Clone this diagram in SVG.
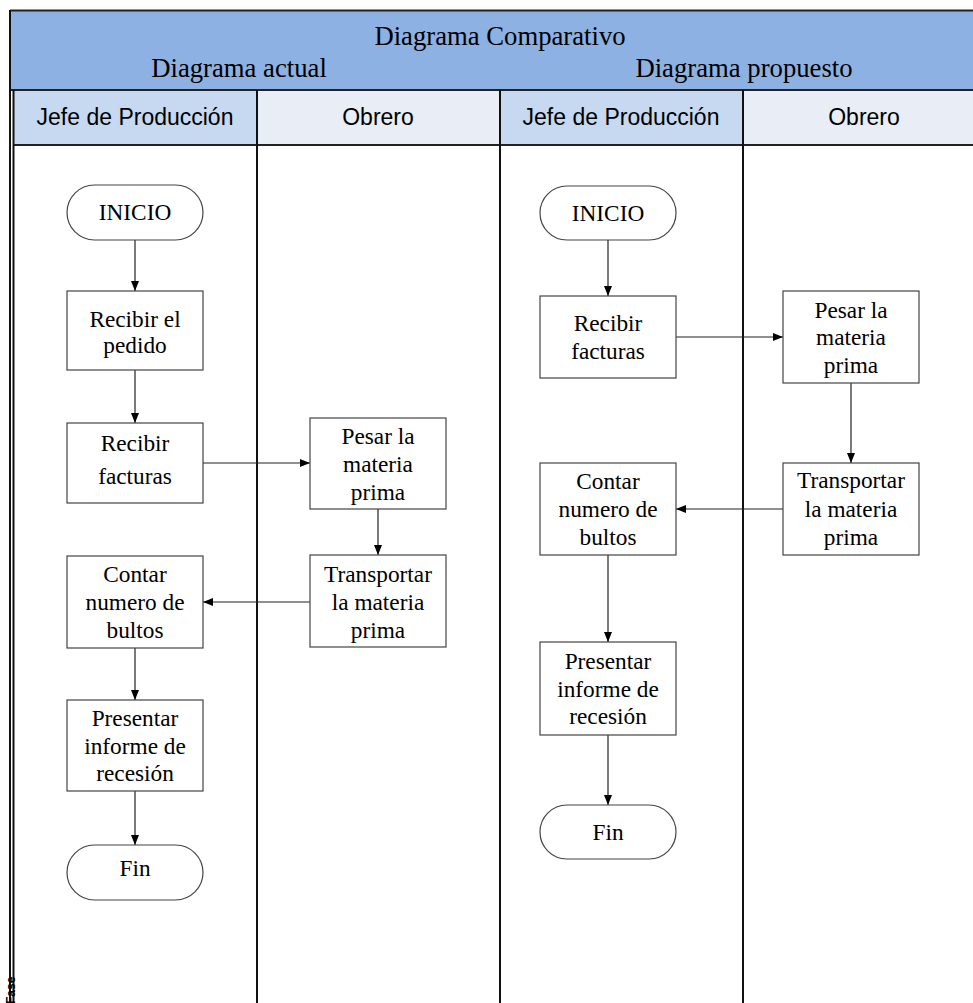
<svg xmlns="http://www.w3.org/2000/svg" width="973" height="1003" viewBox="0 0 973 1003">
<defs>
<marker id="ah" markerWidth="10" markerHeight="8" refX="10" refY="4" orient="auto" markerUnits="userSpaceOnUse">
<path d="M0,0 L10,4 L0,8 Z" fill="#000"/>
</marker>
<style>
.box{fill:#fff;stroke:#444;stroke-width:1.2}
.t{font-family:"Liberation Serif","Times New Roman",serif;font-size:23.3px;fill:#000;text-anchor:middle}
.h{font-family:"Liberation Sans",Arial,sans-serif;font-size:23px;fill:#000;text-anchor:middle}
.ttl{font-family:"Liberation Serif","Times New Roman",serif;font-size:26.7px;fill:#000;text-anchor:middle}
.lane{stroke:#111;stroke-width:2;fill:none}
.c{stroke:#222;stroke-width:1.2;fill:none;marker-end:url(#ah)}
</style>
</defs>
<rect width="973" height="1003" fill="#fff"/>
<g id="header">
<rect x="10" y="10" width="970" height="80" fill="#8DB1E2"/>
<rect x="13" y="90" width="244" height="55" fill="#C6D9F1"/>
<rect x="257" y="90" width="243" height="55" fill="#E9EDF5"/>
<rect x="500" y="90" width="243" height="55" fill="#C6D9F1"/>
<rect x="743" y="90" width="240" height="55" fill="#E9EDF5"/>
<line x1="10" y1="10.5" x2="973" y2="10.5" stroke="#222" stroke-width="2"/>
<line x1="10" y1="90" x2="973" y2="90" stroke="#222" stroke-width="2"/>
<line x1="13" y1="145" x2="973" y2="145" stroke="#222" stroke-width="2"/>
<text class="ttl" x="500" y="45">Diagrama Comparativo</text>
<text class="ttl" x="239" y="77">Diagrama actual</text>
<text class="ttl" x="744" y="77">Diagrama propuesto</text>
<text class="h" x="135" y="125">Jefe de Producción</text>
<text class="h" x="378" y="125">Obrero</text>
<text class="h" x="621" y="125">Jefe de Producción</text>
<text class="h" x="864" y="125">Obrero</text>
</g>
<g id="lanes">
<line class="lane" x1="10" y1="10" x2="10" y2="1003" stroke-width="1.5"/>
<line class="lane" x1="13.5" y1="90" x2="13.5" y2="1003" stroke-width="1.5"/>
<line class="lane" x1="257" y1="90" x2="257" y2="1003"/>
<line class="lane" x1="500" y1="90" x2="500" y2="1003"/>
<line class="lane" x1="743" y1="90" x2="743" y2="1003"/>
<text transform="translate(15,1004) rotate(-90)" font-family="Liberation Sans,Arial,sans-serif" font-size="12" font-weight="bold" fill="#000">Fase</text>
</g>
<g id="connectors">
<line class="c" x1="135" y1="240" x2="135" y2="291"/>
<line class="c" x1="135" y1="370" x2="135" y2="423"/>
<line class="c" x1="203" y1="463" x2="310" y2="463"/>
<line class="c" x1="378" y1="509" x2="378" y2="555"/>
<line class="c" x1="310" y1="602" x2="203" y2="602"/>
<line class="c" x1="135" y1="648" x2="135" y2="700"/>
<line class="c" x1="135" y1="791" x2="135" y2="845"/>
<line class="c" x1="608" y1="240" x2="608" y2="296"/>
<line class="c" x1="676" y1="337" x2="783" y2="337"/>
<line class="c" x1="851" y1="383" x2="851" y2="463"/>
<line class="c" x1="783" y1="509" x2="676" y2="509"/>
<line class="c" x1="608" y1="555" x2="608" y2="642"/>
<line class="c" x1="608" y1="735" x2="608" y2="805"/>
</g>
<g id="a-inicio"><rect class="box" x="67" y="185" width="136" height="55" rx="27.5"/><text class="t" x="135" y="220">INICIO</text></g>
<g id="a-pedido"><rect class="box" x="67" y="291" width="136" height="79"/><text class="t" x="135" y="327">Recibir el</text><text class="t" x="135" y="353">pedido</text></g>
<g id="a-facturas"><rect class="box" x="67" y="423" width="136" height="80"/><text class="t" x="135" y="451">Recibir</text><text class="t" x="135" y="484">facturas</text></g>
<g id="a-pesar"><rect class="box" x="310" y="418" width="136" height="91"/><text class="t" x="378" y="444">Pesar la</text><text class="t" x="378" y="472">materia</text><text class="t" x="378" y="500">prima</text></g>
<g id="a-transportar"><rect class="box" x="310" y="555" width="136" height="92"/><text class="t" x="378" y="582">Transportar</text><text class="t" x="378" y="610">la materia</text><text class="t" x="378" y="638">prima</text></g>
<g id="a-contar"><rect class="box" x="67" y="556" width="136" height="92"/><text class="t" x="135" y="582">Contar</text><text class="t" x="135" y="610">numero de</text><text class="t" x="135" y="638">bultos</text></g>
<g id="a-presentar"><rect class="box" x="67" y="700" width="136" height="91"/><text class="t" x="135" y="726">Presentar</text><text class="t" x="135" y="754">informe de</text><text class="t" x="135" y="781">recesión</text></g>
<g id="a-fin"><rect class="box" x="67" y="845" width="136" height="55" rx="27.5"/><text class="t" x="135" y="876">Fin</text></g>
<g id="b-inicio"><rect class="box" x="540" y="186" width="136" height="54" rx="27"/><text class="t" x="608" y="221">INICIO</text></g>
<g id="b-facturas"><rect class="box" x="540" y="296" width="136" height="82"/><text class="t" x="608" y="331">Recibir</text><text class="t" x="608" y="359">facturas</text></g>
<g id="b-pesar"><rect class="box" x="783" y="291" width="136" height="92"/><text class="t" x="851" y="318">Pesar la</text><text class="t" x="851" y="345">materia</text><text class="t" x="851" y="373">prima</text></g>
<g id="b-transportar"><rect class="box" x="783" y="463" width="136" height="92"/><text class="t" x="851" y="488">Transportar</text><text class="t" x="851" y="517">la materia</text><text class="t" x="851" y="545">prima</text></g>
<g id="b-contar"><rect class="box" x="540" y="463" width="136" height="92"/><text class="t" x="608" y="489">Contar</text><text class="t" x="608" y="517">numero de</text><text class="t" x="608" y="545">bultos</text></g>
<g id="b-presentar"><rect class="box" x="540" y="642" width="136" height="93"/><text class="t" x="608" y="669">Presentar</text><text class="t" x="608" y="697">informe de</text><text class="t" x="608" y="724">recesión</text></g>
<g id="b-fin"><rect class="box" x="540" y="805" width="136" height="54" rx="27"/><text class="t" x="608" y="840">Fin</text></g>
</svg>
